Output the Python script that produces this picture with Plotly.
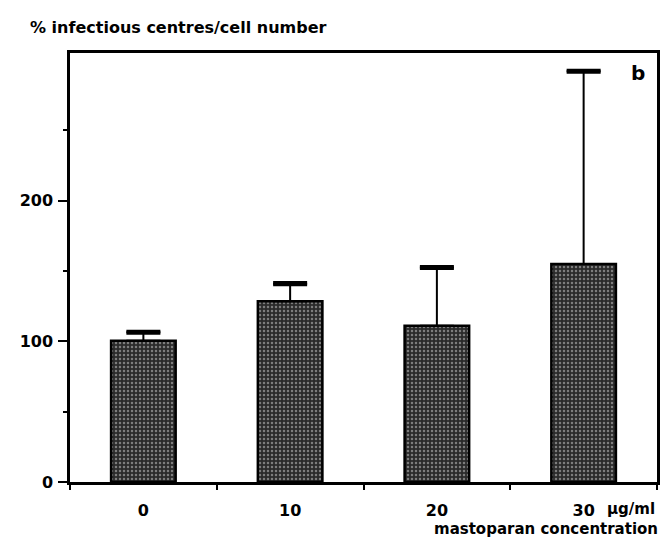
import plotly.graph_objects as go

categories = ["0", "10", "20", "30"]
values = [100.5, 128.5, 111, 155]
errors = [6, 12.5, 41.5, 137]
y_tickvals = [0, 100, 200]
y_ticktext = ["0", "100", "200"]

FONT = "DejaVu Sans"
x_pos = list(range(len(categories)))
cap_y = [v + e for v, e in zip(values, errors)]

fig = go.Figure()
fig.add_trace(go.Bar(
    x=x_pos, y=values, width=0.44,
    marker=dict(
        color="#303030",
        line=dict(color="black", width=2.5),
        pattern=dict(shape=".", fgcolor="#d0d0d0", bgcolor="#2a2a2a", size=4, solidity=0.3),
    ),
    error_y=dict(type="data", array=errors, arrayminus=[0] * len(errors), symmetric=False,
                 color="black", thickness=2, width=17),
    showlegend=False,
))
# thicker caps on top of the error bars
fig.add_trace(go.Scatter(
    x=x_pos, y=cap_y, mode="markers", marker=dict(opacity=0, size=1),
    error_y=dict(type="constant", value=0.4, color="black", thickness=4, width=17),
    showlegend=False, hoverinfo="skip",
))

fig.update_layout(
    width=668, height=540,
    margin=dict(l=55, r=19, t=45, b=66),
    paper_bgcolor="white", plot_bgcolor="white",
    font=dict(family=FONT, size=16, color="black", weight="bold"),
    xaxis=dict(
        range=[-0.5, 3.5], tickvals=x_pos, ticktext=categories, ticks="",
        showline=True, linecolor="black", linewidth=2.5, mirror=True,
        showgrid=False, zeroline=False, ticklabelstandoff=12,
        minor=dict(tick0=0.5, dtick=1, ticks="outside", ticklen=5, tickcolor="black", tickwidth=2),
    ),
    yaxis=dict(
        range=[0, 305], tickvals=y_tickvals, ticktext=y_ticktext,
        ticks="outside", ticklen=9, tickwidth=2, tickcolor="black",
        showline=True, linecolor="black", linewidth=2.5, mirror=True,
        showgrid=False, zeroline=False, ticklabelstandoff=2,
        minor=dict(tickvals=[50, 150, 250], ticks="outside", ticklen=4, tickcolor="black", tickwidth=2),
    ),
    annotations=[
        dict(text="% infectious centres/cell number", xref="paper", yref="paper",
             x=-42 / 594, y=(474 - 19) / 429, xanchor="left", yanchor="middle",
             showarrow=False, font=dict(size=16)),
        dict(text="b", xref="paper", yref="paper", x=(630 - 55) / 594, y=(474 - 65) / 429,
             xanchor="center", yanchor="middle", showarrow=False, font=dict(size=20)),
        dict(text="µg/ml", xref="paper", yref="paper", x=1.0, y=(474 - 501) / 429,
             xanchor="right", yanchor="middle", showarrow=False, font=dict(size=15)),
        dict(text="mastoparan concentration", xref="paper", yref="paper", x=1.005,
             y=(474 - 521) / 429, xanchor="right", yanchor="middle", showarrow=False,
             font=dict(size=15)),
    ],
)

fig.write_html("out.html")
